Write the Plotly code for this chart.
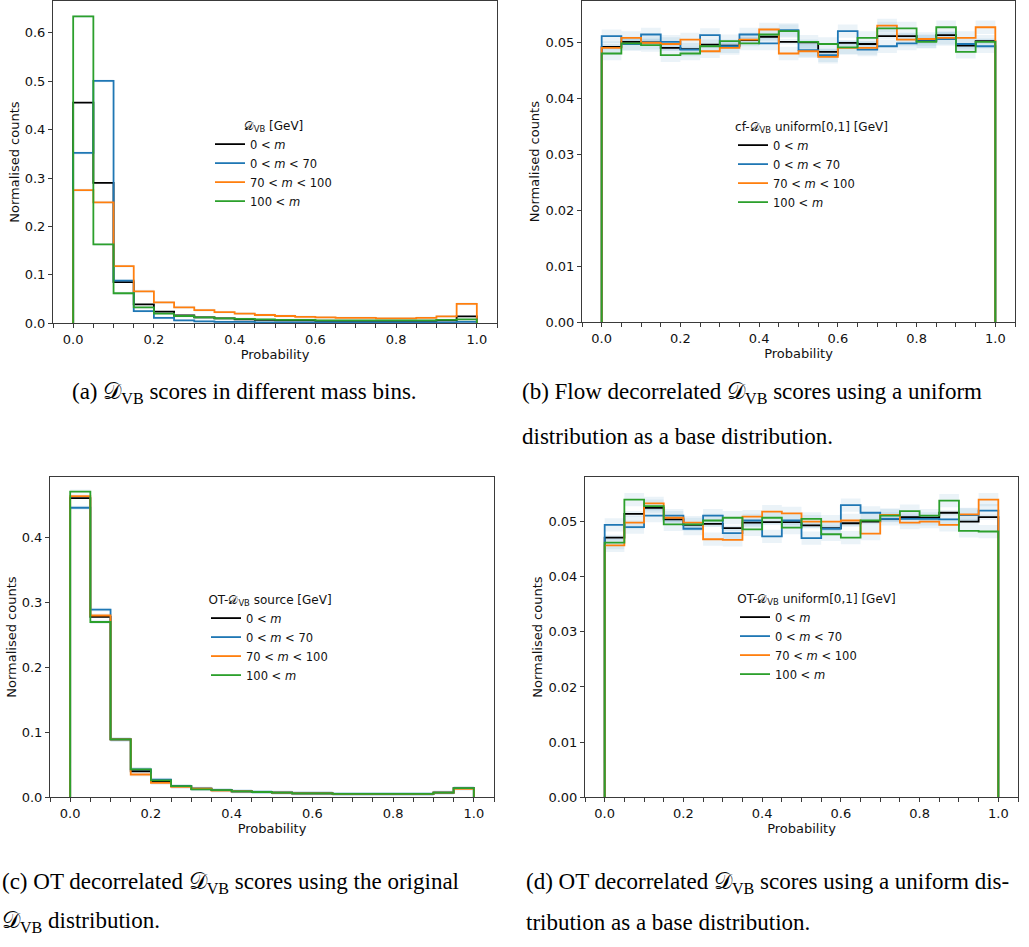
import plotly.graph_objects as go

W, H = 1029, 947

BIN_EDGES = [0.00, 0.05, 0.10, 0.15, 0.20, 0.25, 0.30, 0.35, 0.40, 0.45, 0.50,
             0.55, 0.60, 0.65, 0.70, 0.75, 0.80, 0.85, 0.90, 0.95, 1.00]

SERIES_NAMES = ["0 &lt; <i>m</i>", "0 &lt; <i>m</i> &lt; 70", "70 &lt; <i>m</i> &lt; 100", "100 &lt; <i>m</i>"]
SERIES_COLORS = ["#000000", "#1f77b4", "#ff7f0e", "#2ca02c"]

# (a) D_VB scores
a_all = [0.456, 0.290, 0.085, 0.039, 0.024, 0.016, 0.012, 0.010, 0.008, 0.007,
         0.006, 0.006, 0.005, 0.005, 0.005, 0.005, 0.005, 0.005, 0.006, 0.014]
a_low = [0.352, 0.501, 0.088, 0.025, 0.011, 0.006, 0.004, 0.003, 0.003, 0.002,
         0.002, 0.002, 0.002, 0.002, 0.002, 0.002, 0.002, 0.002, 0.002, 0.003]
a_mid = [0.275, 0.250, 0.118, 0.066, 0.043, 0.033, 0.027, 0.023, 0.020, 0.017,
         0.015, 0.013, 0.012, 0.011, 0.011, 0.010, 0.010, 0.011, 0.014, 0.040]
a_high = [0.634, 0.163, 0.062, 0.033, 0.020, 0.015, 0.012, 0.010, 0.009, 0.008,
          0.007, 0.007, 0.006, 0.006, 0.006, 0.006, 0.006, 0.006, 0.007, 0.008]
a_err = [0.0015, 0.003, 0.003, 0.003]

# (b) flow decorrelated, uniform base
b_all = [0.0493, 0.0502, 0.0501, 0.0491, 0.0489, 0.0497, 0.0495, 0.0505, 0.0511, 0.0502,
         0.0501, 0.0484, 0.0500, 0.0498, 0.0512, 0.0512, 0.0504, 0.0514, 0.0495, 0.0503]
b_low = [0.0512, 0.0498, 0.0515, 0.0502, 0.0488, 0.0514, 0.0494, 0.0515, 0.0499, 0.0523,
         0.0487, 0.0478, 0.0521, 0.0488, 0.0494, 0.0499, 0.0503, 0.0507, 0.0498, 0.0494]
b_mid = [0.0491, 0.0509, 0.0500, 0.0498, 0.0506, 0.0485, 0.0491, 0.0506, 0.0524, 0.0481,
         0.0485, 0.0475, 0.0491, 0.0491, 0.0531, 0.0506, 0.0507, 0.0509, 0.0509, 0.0528]
b_high = [0.0481, 0.0499, 0.0496, 0.0478, 0.0481, 0.0494, 0.0503, 0.0499, 0.0515, 0.0521,
          0.0502, 0.0498, 0.0492, 0.0509, 0.0526, 0.0526, 0.0502, 0.0528, 0.0484, 0.0502]
b_err = [0.0005, 0.0012, 0.0012, 0.0012]

# (c) OT decorrelated, original source
c_all = [0.461, 0.278, 0.089, 0.040, 0.024, 0.017, 0.013, 0.011, 0.009, 0.008,
         0.007, 0.006, 0.006, 0.005, 0.005, 0.005, 0.005, 0.005, 0.007, 0.014]
c_low = [0.446, 0.289, 0.089, 0.043, 0.027, 0.017, 0.013, 0.011, 0.009, 0.008,
         0.007, 0.006, 0.006, 0.005, 0.005, 0.005, 0.005, 0.005, 0.007, 0.014]
c_mid = [0.464, 0.280, 0.089, 0.035, 0.022, 0.016, 0.013, 0.010, 0.009, 0.008,
         0.007, 0.006, 0.006, 0.005, 0.005, 0.005, 0.005, 0.005, 0.007, 0.013]
c_high = [0.471, 0.270, 0.089, 0.043, 0.026, 0.017, 0.012, 0.011, 0.009, 0.008,
          0.007, 0.006, 0.006, 0.005, 0.005, 0.005, 0.005, 0.005, 0.007, 0.014]
c_err = [0.0015, 0.003, 0.003, 0.003]

# (d) OT decorrelated, uniform base
d_all = [0.0471, 0.0514, 0.0525, 0.0504, 0.0494, 0.0496, 0.0488, 0.0498, 0.0499, 0.0499,
         0.0493, 0.0488, 0.0497, 0.0500, 0.0505, 0.0508, 0.0507, 0.0516, 0.0500, 0.0508]
d_low = [0.0494, 0.0490, 0.0511, 0.0511, 0.0487, 0.0511, 0.0479, 0.0502, 0.0473, 0.0502,
         0.0470, 0.0487, 0.0530, 0.0516, 0.0505, 0.0505, 0.0505, 0.0504, 0.0512, 0.0520]
d_mid = [0.0457, 0.0498, 0.0533, 0.0507, 0.0498, 0.0468, 0.0467, 0.0509, 0.0518, 0.0515,
         0.0500, 0.0500, 0.0502, 0.0478, 0.0512, 0.0498, 0.0500, 0.0494, 0.0513, 0.0540]
d_high = [0.0462, 0.0540, 0.0528, 0.0495, 0.0495, 0.0502, 0.0507, 0.0486, 0.0507, 0.0489,
          0.0505, 0.0477, 0.0471, 0.0502, 0.0511, 0.0519, 0.0511, 0.0538, 0.0483, 0.0482]
d_err = [0.0005, 0.0012, 0.0012, 0.0012]

DVB = "\U0001D49F<sub>VB</sub>"
LEGEND_TITLES = [DVB + " [GeV]", "cf-" + DVB + " uniform[0,1] [GeV]",
                 "OT-" + DVB + " source [GeV]", "OT-" + DVB + " uniform[0,1] [GeV]"]

CAPTIONS = [
    ["(a) " + DVB + " scores in different mass bins."],
    ["(b) Flow decorrelated " + DVB + " scores using a uniform", "distribution as a base distribution."],
    ["(c) OT decorrelated " + DVB + " scores using the original", DVB + " distribution."],
    ["(d) OT decorrelated " + DVB + " scores using a uniform dis-", "tribution as a base distribution."],
]

# layout geometry (pixels)
PANELS = [
    dict(x0=53, x1=497, y0=1, y1=326, ymax=0.666, yfmt=".1f", ydt=0.1,
         leg=(210, 115), cap=[(70, 396)]),
    dict(x0=582, x1=1015, y0=1, y1=325, ymax=0.0575, yfmt=".2f", ydt=0.01,
         leg=(733, 116), cap=[(520, 396), (520, 440)]),
    dict(x0=50, x1=494, y0=481, y1=804, ymax=0.4935, yfmt=".1f", ydt=0.1,
         leg=(206, 593), cap=[(0, 891), (0, 930)]),
    dict(x0=585, x1=1018, y0=481, y1=804, ymax=0.0581, yfmt=".2f", ydt=0.01,
         leg=(735, 592), cap=[(524, 891), (524, 930)]),
]

DATA = [
    ([a_all, a_low, a_mid, a_high], a_err),
    ([b_all, b_low, b_mid, b_high], b_err),
    ([c_all, c_low, c_mid, c_high], c_err),
    ([d_all, d_low, d_mid, d_high], d_err),
]

fig = go.Figure()
FONT = "DejaVu Sans"
TXT = "#111111"

for p, (series, errs) in enumerate(DATA):
    sfx = "" if p == 0 else str(p + 1)
    xa, ya = "x" + sfx, "y" + sfx
    leg = "legend" + sfx
    # uncertainty bands
    for vals, err in zip(series, errs):
        xs = BIN_EDGES
        lo = [v - err for v in vals] + [vals[-1] - err]
        hi = [v + err for v in vals] + [vals[-1] + err]
        fig.add_trace(go.Scatter(x=xs, y=lo, mode="lines", line=dict(width=0, shape="hv"),
                                 xaxis=xa, yaxis=ya, showlegend=False, hoverinfo="skip", legend=leg))
        fig.add_trace(go.Scatter(x=xs, y=hi, mode="lines", line=dict(width=0, shape="hv"),
                                 fill="tonexty", fillcolor="rgba(31,119,180,0.09)",
                                 xaxis=xa, yaxis=ya, showlegend=False, hoverinfo="skip", legend=leg))
    # step histograms
    for vals, name, col in zip(series, SERIES_NAMES, SERIES_COLORS):
        xs = [BIN_EDGES[0]] + BIN_EDGES + [BIN_EDGES[-1]]
        ys = [0] + vals + [vals[-1], 0]
        fig.add_trace(go.Scatter(x=xs, y=ys, mode="lines", name=name,
                                 line=dict(color=col, width=1.8, shape="hv"),
                                 xaxis=xa, yaxis=ya, legend=leg))

    g = PANELS[p]
    axis_common = dict(showline=True, linecolor="#3a3a3a", linewidth=1, mirror=True,
                       showgrid=False, zeroline=False, ticks="outside", ticklen=4,
                       tickwidth=1, tickcolor="#3a3a3a",
                       tickfont=dict(family=FONT, size=13, color=TXT))
    fig.layout["xaxis" + sfx] = dict(
        axis_common, domain=[g["x0"] / W, g["x1"] / W], range=[-0.05, 1.05],
        anchor=ya, tickvals=[0, 0.2, 0.4, 0.6, 0.8, 1.0], tickformat=".1f",
        minor=dict(dtick=0.05, tick0=0, ticks="outside", ticklen=4, tickcolor="#3a3a3a", showgrid=False),
        title=dict(text="Probability", font=dict(family=FONT, size=13, color=TXT), standoff=3))
    fig.layout["yaxis" + sfx] = dict(
        axis_common, domain=[1 - g["y1"] / H, 1 - g["y0"] / H], range=[0, g["ymax"]],
        anchor=xa, dtick=g["ydt"], tick0=0, tickformat=g["yfmt"],
        title=dict(text="Normalised counts", font=dict(family=FONT, size=13, color=TXT), standoff=2))
    lx, ly = g["leg"]
    fig.layout[leg] = dict(
        x=lx / W, y=1 - ly / H, xanchor="left", yanchor="top", xref="paper", yref="paper",
        bgcolor="rgba(0,0,0,0)", borderwidth=0, traceorder="normal",
        font=dict(family=FONT, size=11.5, color=TXT),
        title=dict(text=LEGEND_TITLES[p], side="top center", font=dict(family=FONT, size=12, color=TXT)),
        itemwidth=30, tracegroupgap=0)
    for line, (cx, cy) in zip(CAPTIONS[p], g["cap"]):
        fig.add_annotation(text=line, x=cx / W, y=1 - cy / H, xref="paper", yref="paper",
                           xanchor="left", yanchor="middle", showarrow=False,
                           font=dict(family="Liberation Serif", size=23, color="#000000"))

fig.update_layout(width=W, height=H, margin=dict(l=0, r=0, t=0, b=0),
                  paper_bgcolor="white", plot_bgcolor="white", showlegend=True)

fig.write_html("out.html")
